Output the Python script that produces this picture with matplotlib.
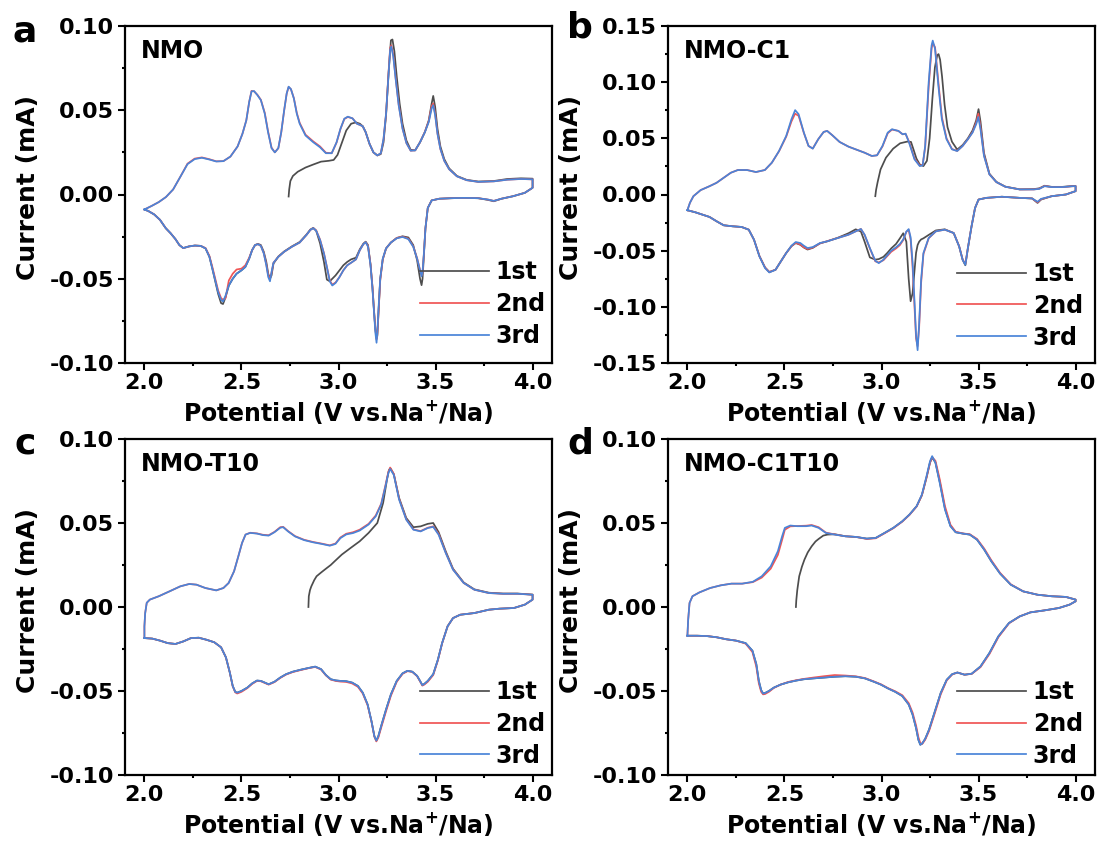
import matplotlib
matplotlib.use('Agg')
import matplotlib.pyplot as plt
from matplotlib.ticker import MultipleLocator, FormatStrFormatter

plt.rcParams['font.family'] = 'DejaVu Sans'
plt.rcParams['font.weight'] = 'bold'
plt.rcParams['mathtext.default'] = 'bf'
plt.rcParams['axes.unicode_minus'] = False

# ---------------- panel a : NMO ----------------
a_up_v = [2.000, 2.037, 2.074, 2.111, 2.148, 2.185, 2.222, 2.259, 2.296, 2.333,
          2.370, 2.407, 2.443, 2.480, 2.505, 2.525, 2.540, 2.552, 2.565, 2.582,
          2.600, 2.620, 2.637, 2.655, 2.672, 2.690, 2.705, 2.720, 2.733, 2.743,
          2.755, 2.770, 2.785, 2.800, 2.830, 2.870, 2.905, 2.935, 2.965, 2.990,
          3.010, 3.030, 3.048, 3.072, 3.095, 3.112, 3.125, 3.140, 3.160, 3.180,
          3.200, 3.218, 3.232, 3.245, 3.256, 3.266, 3.272, 3.282, 3.295, 3.310,
          3.330, 3.350, 3.372, 3.395, 3.420, 3.445, 3.465, 3.480, 3.488, 3.498,
          3.510, 3.525, 3.545, 3.570, 3.610, 3.660, 3.720, 3.800, 3.870, 3.940, 4.000]
a_up_3rd = [-0.0089, -0.0068, -0.0045, -0.0015, 0.0030, 0.0105, 0.0180, 0.0210, 0.0218, 0.0208,
            0.0196, 0.0198, 0.0225, 0.0285, 0.0360, 0.0440, 0.0550, 0.0612, 0.0614, 0.0590,
            0.0560, 0.0480, 0.0370, 0.0275, 0.0250, 0.0275, 0.0370, 0.0500, 0.0600, 0.0640,
            0.0625, 0.0570, 0.0480, 0.0420, 0.0350, 0.0310, 0.0280, 0.0245, 0.0245, 0.0310,
            0.0390, 0.0450, 0.0462, 0.0452, 0.0420, 0.0412, 0.0405, 0.0370, 0.0300, 0.0250,
            0.0232, 0.0245, 0.0330, 0.0480, 0.0680, 0.0860, 0.0878, 0.0820, 0.0680, 0.0530,
            0.0390, 0.0305, 0.0260, 0.0262, 0.0310, 0.0370, 0.0430, 0.0510, 0.0530, 0.0470,
            0.0360, 0.0270, 0.0200, 0.0150, 0.0108, 0.0085, 0.0075, 0.0078, 0.0088, 0.0092, 0.0090]
a_up_2nd = [-0.0089, -0.0068, -0.0045, -0.0015, 0.0030, 0.0105, 0.0183, 0.0213, 0.0220, 0.0210,
            0.0197, 0.0198, 0.0225, 0.0285, 0.0360, 0.0440, 0.0550, 0.0615, 0.0612, 0.0592,
            0.0562, 0.0485, 0.0375, 0.0278, 0.0250, 0.0275, 0.0368, 0.0498, 0.0598, 0.0638,
            0.0625, 0.0572, 0.0485, 0.0425, 0.0355, 0.0315, 0.0285, 0.0248, 0.0245, 0.0308,
            0.0388, 0.0448, 0.0460, 0.0452, 0.0420, 0.0412, 0.0405, 0.0370, 0.0300, 0.0250,
            0.0232, 0.0245, 0.0328, 0.0478, 0.0690, 0.0870, 0.0885, 0.0830, 0.0685, 0.0535,
            0.0392, 0.0305, 0.0260, 0.0262, 0.0310, 0.0372, 0.0435, 0.0525, 0.0540, 0.0478,
            0.0362, 0.0270, 0.0200, 0.0150, 0.0108, 0.0085, 0.0075, 0.0078, 0.0088, 0.0092, 0.0090]
a_dn_v = [4.000, 3.960, 3.900, 3.840, 3.800, 3.770, 3.720, 3.650, 3.580, 3.520,
          3.480, 3.460, 3.448, 3.440, 3.433, 3.428, 3.420, 3.405, 3.385, 3.360,
          3.330, 3.300, 3.270, 3.245, 3.228, 3.215, 3.206, 3.200, 3.196, 3.190,
          3.183, 3.175, 3.165, 3.152, 3.140, 3.128, 3.110, 3.090, 3.065, 3.045,
          3.025, 3.005, 2.985, 2.968, 2.955, 2.940, 2.925, 2.905, 2.885, 2.870,
          2.855, 2.835, 2.800, 2.760, 2.720, 2.690, 2.665, 2.655, 2.647, 2.638,
          2.628, 2.615, 2.600, 2.585, 2.570, 2.555, 2.540, 2.520, 2.500, 2.475,
          2.455, 2.435, 2.418, 2.405, 2.395, 2.380, 2.365, 2.350, 2.335, 2.315,
          2.290, 2.260, 2.230, 2.200, 2.180, 2.160, 2.135, 2.110, 2.080, 2.050,
          2.020, 2.000]
a_dn_3rd = [0.0040, 0.0010, -0.0010, -0.0025, -0.0038, -0.0030, -0.0022, -0.0020, -0.0022, -0.0025,
            -0.0035, -0.0080, -0.0200, -0.0350, -0.0460, -0.0485, -0.0450, -0.0380, -0.0310, -0.0265,
            -0.0252, -0.0260, -0.0285, -0.0320, -0.0380, -0.0500, -0.0680, -0.0820, -0.0880, -0.0820,
            -0.0700, -0.0560, -0.0420, -0.0310, -0.0283, -0.0295, -0.0330, -0.0385, -0.0405, -0.0420,
            -0.0450, -0.0490, -0.0525, -0.0540, -0.0515, -0.0430, -0.0350, -0.0270, -0.0215, -0.0200,
            -0.0210, -0.0240, -0.0285, -0.0310, -0.0340, -0.0370, -0.0405, -0.0460, -0.0515, -0.0490,
            -0.0420, -0.0350, -0.0305, -0.0295, -0.0300, -0.0330, -0.0380, -0.0430, -0.0450, -0.0470,
            -0.0500, -0.0540, -0.0600, -0.0635, -0.0625, -0.0580, -0.0510, -0.0440, -0.0370, -0.0320,
            -0.0305, -0.0303, -0.0308, -0.0318, -0.0300, -0.0265, -0.0230, -0.0200, -0.0150, -0.0118,
            -0.0098, -0.0089]
a_dn_2nd = [0.0040, 0.0010, -0.0010, -0.0025, -0.0038, -0.0030, -0.0022, -0.0020, -0.0022, -0.0025,
            -0.0035, -0.0080, -0.0200, -0.0350, -0.0465, -0.0480, -0.0448, -0.0378, -0.0308, -0.0262,
            -0.0250, -0.0258, -0.0285, -0.0320, -0.0385, -0.0510, -0.0700, -0.0830, -0.0860, -0.0800,
            -0.0690, -0.0550, -0.0415, -0.0305, -0.0283, -0.0295, -0.0330, -0.0385, -0.0405, -0.0420,
            -0.0450, -0.0490, -0.0522, -0.0535, -0.0510, -0.0428, -0.0348, -0.0268, -0.0213, -0.0200,
            -0.0210, -0.0240, -0.0285, -0.0310, -0.0340, -0.0370, -0.0405, -0.0465, -0.0500, -0.0480,
            -0.0415, -0.0348, -0.0305, -0.0295, -0.0300, -0.0330, -0.0375, -0.0420, -0.0440, -0.0445,
            -0.0470, -0.0510, -0.0615, -0.0625, -0.0615, -0.0570, -0.0500, -0.0430, -0.0365, -0.0318,
            -0.0305, -0.0303, -0.0308, -0.0318, -0.0300, -0.0265, -0.0230, -0.0200, -0.0150, -0.0118,
            -0.0098, -0.0089]
a_dn_1st = [0.0040, 0.0010, -0.0010, -0.0025, -0.0040, -0.0032, -0.0022, -0.0020, -0.0022, -0.0025,
            -0.0035, -0.0080, -0.0200, -0.0360, -0.0500, -0.0538, -0.0500, -0.0390, -0.0300, -0.0255,
            -0.0248, -0.0258, -0.0285, -0.0320, -0.0385, -0.0500, -0.0700, -0.0840, -0.0850, -0.0800,
            -0.0690, -0.0550, -0.0415, -0.0300, -0.0280, -0.0292, -0.0325, -0.0375, -0.0385, -0.0400,
            -0.0420, -0.0450, -0.0480, -0.0500, -0.0515, -0.0505, -0.0400, -0.0290, -0.0215, -0.0198,
            -0.0208, -0.0238, -0.0282, -0.0308, -0.0338, -0.0368, -0.0410, -0.0480, -0.0500, -0.0470,
            -0.0400, -0.0340, -0.0300, -0.0293, -0.0300, -0.0330, -0.0380, -0.0430, -0.0450, -0.0470,
            -0.0500, -0.0540, -0.0610, -0.0650, -0.0645, -0.0590, -0.0515, -0.0440, -0.0370, -0.0320,
            -0.0305, -0.0303, -0.0308, -0.0318, -0.0300, -0.0265, -0.0230, -0.0200, -0.0150, -0.0118,
            -0.0098, -0.0089]
a_start_v = [2.743, 2.746, 2.752, 2.765, 2.790, 2.830, 2.870, 2.910, 2.950, 2.975,
             2.995, 3.015, 3.040, 3.065, 3.090, 3.110, 3.125, 3.140, 3.160, 3.180,
             3.200, 3.218, 3.232, 3.245, 3.258, 3.270, 3.278, 3.288, 3.300, 3.315,
             3.330, 3.350, 3.372, 3.395, 3.420, 3.445, 3.465, 3.480, 3.488, 3.498,
             3.510, 3.525, 3.545, 3.570, 3.610, 3.660, 3.720, 3.800, 3.870, 3.940, 4.000]
a_start_i = [-0.0012, 0.0030, 0.0080, 0.0110, 0.0135, 0.0160, 0.0178, 0.0195, 0.0200, 0.0205,
             0.0235, 0.0300, 0.0380, 0.0420, 0.0428, 0.0420, 0.0405, 0.0370, 0.0300, 0.0250,
             0.0232, 0.0240, 0.0310, 0.0470, 0.0720, 0.0915, 0.0920, 0.0850, 0.0700, 0.0540,
             0.0420, 0.0320, 0.0265, 0.0262, 0.0310, 0.0370, 0.0440, 0.0540, 0.0585, 0.0520,
             0.0390, 0.0285, 0.0210, 0.0155, 0.0110, 0.0087, 0.0077, 0.0080, 0.0092, 0.0096, 0.0094]

# ---------------- panel b : NMO-C1 ----------------
b_up_v = [2.000, 2.013, 2.031, 2.068, 2.114, 2.150, 2.187, 2.224, 2.260, 2.307,
          2.353, 2.399, 2.435, 2.472, 2.509, 2.536, 2.555, 2.573, 2.600, 2.624,
          2.646, 2.674, 2.702, 2.720, 2.747, 2.784, 2.830, 2.876, 2.913, 2.950,
          2.977, 3.005, 3.032, 3.054, 3.087, 3.109, 3.124, 3.142, 3.170, 3.197,
          3.212, 3.225, 3.243, 3.258, 3.264, 3.276, 3.293, 3.311, 3.335, 3.363,
          3.390, 3.418, 3.445, 3.469, 3.488, 3.499, 3.510, 3.528, 3.556, 3.592,
          3.638, 3.712, 3.785, 3.813, 3.840, 3.877, 3.932, 3.987, 4.000]
b_up_3rd = [-0.0140, -0.0074, -0.0015, 0.0039, 0.0074, 0.0104, 0.0149, 0.0194, 0.0218, 0.0218,
            0.0200, 0.0218, 0.0283, 0.0387, 0.0521, 0.0670, 0.0751, 0.0715, 0.0551, 0.0432,
            0.0408, 0.0492, 0.0557, 0.0566, 0.0527, 0.0468, 0.0426, 0.0396, 0.0372, 0.0343,
            0.0349, 0.0432, 0.0551, 0.0581, 0.0566, 0.0536, 0.0542, 0.0462, 0.0313, 0.0253,
            0.0259, 0.0432, 0.0998, 0.1326, 0.1370, 0.1296, 0.0968, 0.0670, 0.0492, 0.0402,
            0.0387, 0.0432, 0.0492, 0.0551, 0.0626, 0.0690, 0.0581, 0.0343, 0.0179, 0.0110,
            0.0069, 0.0045, 0.0045, 0.0050, 0.0074, 0.0066, 0.0066, 0.0074, 0.0074]
b_up_2nd = [-0.0140, -0.0074, -0.0015, 0.0039, 0.0074, 0.0104, 0.0149, 0.0194, 0.0218, 0.0218,
            0.0200, 0.0218, 0.0283, 0.0385, 0.0515, 0.0650, 0.0720, 0.0700, 0.0548, 0.0432,
            0.0410, 0.0492, 0.0557, 0.0566, 0.0527, 0.0468, 0.0426, 0.0396, 0.0372, 0.0343,
            0.0349, 0.0428, 0.0545, 0.0578, 0.0566, 0.0536, 0.0540, 0.0470, 0.0320, 0.0258,
            0.0262, 0.0420, 0.0960, 0.1300, 0.1350, 0.1310, 0.1000, 0.0690, 0.0500, 0.0405,
            0.0388, 0.0432, 0.0492, 0.0555, 0.0640, 0.0720, 0.0600, 0.0350, 0.0180, 0.0110,
            0.0069, 0.0045, 0.0045, 0.0052, 0.0076, 0.0066, 0.0066, 0.0074, 0.0074]
b_dn_v = [4.000, 3.950, 3.877, 3.822, 3.804, 3.790, 3.776, 3.712, 3.620, 3.540,
          3.500, 3.482, 3.464, 3.445, 3.432, 3.418, 3.400, 3.372, 3.326, 3.280,
          3.243, 3.216, 3.204, 3.194, 3.186, 3.178, 3.170, 3.160, 3.150, 3.140,
          3.128, 3.112, 3.095, 3.075, 3.050, 3.030, 3.010, 2.986, 2.968, 2.940,
          2.913, 2.894, 2.867, 2.830, 2.775, 2.720, 2.683, 2.646, 2.619, 2.600,
          2.582, 2.558, 2.536, 2.509, 2.481, 2.454, 2.422, 2.400, 2.371, 2.343,
          2.316, 2.279, 2.233, 2.187, 2.150, 2.114, 2.077, 2.040, 2.000]
b_dn_3rd = [0.0030, 0.0000, -0.0015, -0.0039, -0.0065, -0.0050, -0.0035, -0.0030, -0.0020, -0.0030,
            -0.0045, -0.0120, -0.0283, -0.0477, -0.0626, -0.0581, -0.0462, -0.0343, -0.0313, -0.0328,
            -0.0387, -0.0521, -0.0760, -0.1150, -0.1386, -0.1250, -0.0950, -0.0600, -0.0380, -0.0308,
            -0.0330, -0.0400, -0.0440, -0.0470, -0.0500, -0.0540, -0.0580, -0.0611, -0.0590, -0.0477,
            -0.0358, -0.0307, -0.0328, -0.0358, -0.0387, -0.0417, -0.0432, -0.0468, -0.0477, -0.0456,
            -0.0432, -0.0423, -0.0456, -0.0521, -0.0596, -0.0670, -0.0694, -0.0655, -0.0551, -0.0402,
            -0.0313, -0.0289, -0.0283, -0.0274, -0.0238, -0.0200, -0.0179, -0.0158, -0.0140]
b_dn_2nd = [0.0030, 0.0000, -0.0015, -0.0042, -0.0070, -0.0052, -0.0035, -0.0030, -0.0020, -0.0030,
            -0.0045, -0.0120, -0.0283, -0.0477, -0.0620, -0.0578, -0.0460, -0.0343, -0.0313, -0.0328,
            -0.0390, -0.0530, -0.0790, -0.1180, -0.1350, -0.1280, -0.1000, -0.0640, -0.0400, -0.0315,
            -0.0332, -0.0405, -0.0450, -0.0480, -0.0510, -0.0548, -0.0585, -0.0605, -0.0595, -0.0480,
            -0.0360, -0.0307, -0.0328, -0.0358, -0.0387, -0.0417, -0.0435, -0.0472, -0.0485, -0.0470,
            -0.0445, -0.0430, -0.0460, -0.0521, -0.0596, -0.0670, -0.0690, -0.0650, -0.0548, -0.0402,
            -0.0313, -0.0289, -0.0283, -0.0274, -0.0238, -0.0200, -0.0179, -0.0158, -0.0140]
b_dn_1st = [0.0030, 0.0000, -0.0015, -0.0045, -0.0075, -0.0055, -0.0035, -0.0030, -0.0020, -0.0030,
            -0.0045, -0.0120, -0.0283, -0.0480, -0.0630, -0.0581, -0.0462, -0.0343, -0.0310, -0.0320,
            -0.0360, -0.0390, -0.0400, -0.0420, -0.0450, -0.0520, -0.0680, -0.0880, -0.0950, -0.0750,
            -0.0420, -0.0345, -0.0390, -0.0440, -0.0480, -0.0520, -0.0555, -0.0575, -0.0580, -0.0560,
            -0.0420, -0.0330, -0.0310, -0.0345, -0.0385, -0.0417, -0.0435, -0.0475, -0.0490, -0.0472,
            -0.0448, -0.0432, -0.0460, -0.0521, -0.0596, -0.0670, -0.0690, -0.0650, -0.0548, -0.0402,
            -0.0313, -0.0289, -0.0283, -0.0274, -0.0238, -0.0200, -0.0179, -0.0158, -0.0140]
b_start_v = [2.968, 2.972, 2.980, 2.995, 3.023, 3.060, 3.096, 3.133, 3.152, 3.165,
             3.180, 3.197, 3.216, 3.234, 3.248, 3.262, 3.275, 3.287, 3.294, 3.302,
             3.312, 3.325, 3.340, 3.363, 3.390, 3.418, 3.445, 3.469, 3.488, 3.500,
             3.510, 3.528, 3.556, 3.592, 3.638, 3.712, 3.785, 3.813, 3.840, 3.877,
             3.932, 3.987, 4.000]
b_start_i = [-0.0015, 0.0040, 0.0110, 0.0223, 0.0328, 0.0408, 0.0456, 0.0471, 0.0468, 0.0400,
             0.0320, 0.0268, 0.0253, 0.0300, 0.0500, 0.0850, 0.1130, 0.1240, 0.1250, 0.1200,
             0.1050, 0.0800, 0.0600, 0.0470, 0.0400, 0.0440, 0.0500, 0.0570, 0.0660, 0.0760,
             0.0650, 0.0370, 0.0185, 0.0112, 0.0070, 0.0046, 0.0048, 0.0055, 0.0078, 0.0068,
             0.0068, 0.0076, 0.0076]

# ---------------- panel c : NMO-T10 ----------------
c_up_v = [2.000, 2.000, 2.004, 2.012, 2.028, 2.074, 2.129, 2.185, 2.231, 2.268,
          2.314, 2.370, 2.407, 2.434, 2.462, 2.484, 2.503, 2.521, 2.545, 2.580,
          2.610, 2.640, 2.670, 2.700, 2.715, 2.740, 2.776, 2.823, 2.869, 2.915,
          2.955, 2.985, 3.010, 3.040, 3.075, 3.109, 3.155, 3.192, 3.220, 3.242,
          3.257, 3.266, 3.285, 3.312, 3.349, 3.386, 3.423, 3.460, 3.488, 3.516,
          3.553, 3.590, 3.645, 3.700, 3.775, 3.848, 3.922, 4.000]
c_up_3rd = [-0.0185, -0.0115, -0.0036, 0.0025, 0.0044, 0.0064, 0.0093, 0.0123, 0.0137, 0.0133,
            0.0113, 0.0099, 0.0113, 0.0143, 0.0213, 0.0302, 0.0381, 0.0431, 0.0441, 0.0437,
            0.0428, 0.0425, 0.0445, 0.0472, 0.0475, 0.0450, 0.0420, 0.0398, 0.0385, 0.0375,
            0.0365, 0.0375, 0.0410, 0.0432, 0.0440, 0.0455, 0.0491, 0.0540, 0.0610, 0.0719,
            0.0798, 0.0822, 0.0786, 0.0640, 0.0520, 0.0460, 0.0450, 0.0470, 0.0477, 0.0430,
            0.0320, 0.0222, 0.0143, 0.0103, 0.0083, 0.0079, 0.0079, 0.0073]
c_up_2nd = [-0.0185, -0.0115, -0.0036, 0.0025, 0.0044, 0.0064, 0.0093, 0.0123, 0.0137, 0.0133,
            0.0113, 0.0099, 0.0113, 0.0143, 0.0213, 0.0302, 0.0381, 0.0431, 0.0442, 0.0438,
            0.0430, 0.0427, 0.0447, 0.0475, 0.0477, 0.0452, 0.0422, 0.0400, 0.0387, 0.0377,
            0.0367, 0.0378, 0.0414, 0.0436, 0.0445, 0.0460, 0.0495, 0.0545, 0.0615, 0.0725,
            0.0805, 0.0830, 0.0792, 0.0645, 0.0522, 0.0462, 0.0452, 0.0472, 0.0480, 0.0435,
            0.0322, 0.0224, 0.0143, 0.0103, 0.0083, 0.0079, 0.0079, 0.0073]
c_dn_v = [4.000, 4.000, 3.960, 3.904, 3.830, 3.775, 3.700, 3.627, 3.590, 3.562,
          3.534, 3.512, 3.488, 3.460, 3.442, 3.432, 3.420, 3.405, 3.380, 3.355,
          3.330, 3.300, 3.270, 3.245, 3.222, 3.205, 3.195, 3.185, 3.170, 3.150,
          3.125, 3.100, 3.070, 3.040, 3.010, 2.985, 2.960, 2.935, 2.910, 2.880,
          2.850, 2.810, 2.765, 2.730, 2.700, 2.670, 2.640, 2.620, 2.600, 2.580,
          2.555, 2.530, 2.500, 2.478, 2.468, 2.455, 2.440, 2.420, 2.395, 2.360,
          2.320, 2.280, 2.240, 2.200, 2.160, 2.120, 2.080, 2.040, 2.000]
c_dn_3rd = [0.0073, 0.0044, 0.0014, -0.0006, -0.0010, -0.0016, -0.0036, -0.0046, -0.0066, -0.0115,
            -0.0214, -0.0314, -0.0400, -0.0440, -0.0458, -0.0465, -0.0440, -0.0410, -0.0385, -0.0380,
            -0.0395, -0.0440, -0.0520, -0.0610, -0.0700, -0.0770, -0.0795, -0.0770, -0.0680, -0.0580,
            -0.0510, -0.0470, -0.0450, -0.0442, -0.0440, -0.0437, -0.0430, -0.0405, -0.0370, -0.0355,
            -0.0362, -0.0372, -0.0385, -0.0400, -0.0420, -0.0445, -0.0460, -0.0450, -0.0440, -0.0438,
            -0.0455, -0.0480, -0.0500, -0.0510, -0.0505, -0.0470, -0.0390, -0.0300, -0.0240, -0.0210,
            -0.0195, -0.0183, -0.0185, -0.0205, -0.0220, -0.0215, -0.0200, -0.0188, -0.0185]
c_dn_2nd = [0.0073, 0.0044, 0.0014, -0.0006, -0.0010, -0.0016, -0.0036, -0.0046, -0.0066, -0.0115,
            -0.0216, -0.0318, -0.0405, -0.0445, -0.0462, -0.0468, -0.0442, -0.0412, -0.0386, -0.0382,
            -0.0398, -0.0445, -0.0528, -0.0620, -0.0710, -0.0778, -0.0800, -0.0772, -0.0682, -0.0585,
            -0.0515, -0.0475, -0.0455, -0.0446, -0.0444, -0.0440, -0.0432, -0.0407, -0.0372, -0.0357,
            -0.0363, -0.0374, -0.0387, -0.0402, -0.0422, -0.0447, -0.0462, -0.0452, -0.0442, -0.0440,
            -0.0458, -0.0483, -0.0505, -0.0515, -0.0508, -0.0472, -0.0390, -0.0300, -0.0240, -0.0210,
            -0.0195, -0.0183, -0.0185, -0.0205, -0.0220, -0.0215, -0.0200, -0.0188, -0.0185]
c_start_v = [2.845, 2.847, 2.853, 2.860, 2.875, 2.887, 2.910, 2.933, 2.960, 2.980,
             3.017, 3.063, 3.109, 3.155, 3.200, 3.230, 3.250, 3.260, 3.268, 3.285,
             3.312, 3.349, 3.386, 3.423, 3.460, 3.488, 3.516, 3.553, 3.590, 3.645,
             3.700, 3.775, 3.848, 3.922, 4.000]
c_start_i = [0.0000, 0.0064, 0.0100, 0.0123, 0.0160, 0.0183, 0.0205, 0.0226, 0.0250, 0.0272,
             0.0312, 0.0352, 0.0391, 0.0441, 0.0500, 0.0620, 0.0760, 0.0815, 0.0825, 0.0790,
             0.0650, 0.0530, 0.0475, 0.0480, 0.0495, 0.0500, 0.0445, 0.0330, 0.0228, 0.0146,
             0.0105, 0.0085, 0.0080, 0.0080, 0.0074]

# ---------------- panel d : NMO-C1T10 ----------------
d_up_v = [2.000, 2.004, 2.011, 2.026, 2.062, 2.117, 2.172, 2.227, 2.282, 2.337,
          2.383, 2.429, 2.466, 2.488, 2.502, 2.530, 2.566, 2.612, 2.640, 2.676,
          2.713, 2.759, 2.814, 2.869, 2.924, 2.970, 3.016, 3.061, 3.107, 3.144,
          3.181, 3.208, 3.232, 3.250, 3.261, 3.278, 3.300, 3.327, 3.355, 3.382,
          3.419, 3.455, 3.492, 3.529, 3.566, 3.611, 3.666, 3.730, 3.804, 3.877,
          3.950, 4.000]
d_up_3rd = [-0.0171, -0.0075, 0.0024, 0.0064, 0.0087, 0.0113, 0.0129, 0.0139, 0.0139, 0.0150,
            0.0183, 0.0242, 0.0332, 0.0421, 0.0471, 0.0485, 0.0481, 0.0481, 0.0485, 0.0471,
            0.0441, 0.0431, 0.0421, 0.0417, 0.0407, 0.0411, 0.0441, 0.0471, 0.0510, 0.0550,
            0.0600, 0.0669, 0.0779, 0.0868, 0.0898, 0.0858, 0.0739, 0.0580, 0.0481, 0.0445,
            0.0437, 0.0431, 0.0401, 0.0342, 0.0272, 0.0199, 0.0133, 0.0093, 0.0073, 0.0064,
            0.0060, 0.0044]
d_up_2nd = [-0.0171, -0.0075, 0.0024, 0.0064, 0.0087, 0.0113, 0.0129, 0.0139, 0.0139, 0.0148,
            0.0175, 0.0228, 0.0310, 0.0400, 0.0460, 0.0480, 0.0482, 0.0484, 0.0488, 0.0475,
            0.0443, 0.0432, 0.0421, 0.0417, 0.0405, 0.0409, 0.0439, 0.0469, 0.0508, 0.0548,
            0.0598, 0.0665, 0.0772, 0.0860, 0.0892, 0.0870, 0.0760, 0.0600, 0.0490, 0.0448,
            0.0438, 0.0433, 0.0405, 0.0348, 0.0278, 0.0203, 0.0135, 0.0093, 0.0073, 0.0064,
            0.0060, 0.0044]
d_dn_v = [4.000, 4.000, 3.969, 3.914, 3.840, 3.767, 3.712, 3.657, 3.602, 3.556,
          3.510, 3.465, 3.428, 3.391, 3.364, 3.336, 3.305, 3.272, 3.245, 3.225,
          3.210, 3.200, 3.190, 3.178, 3.160, 3.140, 3.107, 3.071, 3.034, 2.997,
          2.961, 2.915, 2.869, 2.814, 2.759, 2.704, 2.649, 2.600, 2.560, 2.520,
          2.480, 2.445, 2.420, 2.400, 2.390, 2.380, 2.368, 2.355, 2.335, 2.300,
          2.250, 2.200, 2.150, 2.100, 2.050, 2.000]
d_dn_3rd = [0.0044, 0.0034, 0.0014, -0.0006, -0.0020, -0.0032, -0.0056, -0.0095, -0.0175, -0.0274,
            -0.0354, -0.0397, -0.0403, -0.0390, -0.0400, -0.0433, -0.0512, -0.0632, -0.0730, -0.0785,
            -0.0812, -0.0820, -0.0790, -0.0720, -0.0640, -0.0580, -0.0530, -0.0505, -0.0485, -0.0462,
            -0.0445, -0.0425, -0.0415, -0.0412, -0.0415, -0.0420, -0.0425, -0.0430, -0.0438, -0.0448,
            -0.0462, -0.0480, -0.0500, -0.0512, -0.0515, -0.0495, -0.0440, -0.0340, -0.0260, -0.0215,
            -0.0200, -0.0192, -0.0180, -0.0173, -0.0171, -0.0171]
d_dn_2nd = [0.0044, 0.0034, 0.0014, -0.0006, -0.0020, -0.0032, -0.0056, -0.0097, -0.0180, -0.0280,
            -0.0358, -0.0398, -0.0403, -0.0390, -0.0402, -0.0437, -0.0520, -0.0642, -0.0738, -0.0790,
            -0.0815, -0.0810, -0.0775, -0.0705, -0.0628, -0.0572, -0.0525, -0.0502, -0.0483, -0.0460,
            -0.0443, -0.0423, -0.0413, -0.0408, -0.0405, -0.0412, -0.0420, -0.0428, -0.0436, -0.0446,
            -0.0462, -0.0482, -0.0505, -0.0518, -0.0520, -0.0505, -0.0455, -0.0355, -0.0268, -0.0218,
            -0.0200, -0.0192, -0.0180, -0.0173, -0.0171, -0.0171]
d_start_v = [2.559, 2.561, 2.566, 2.576, 2.590, 2.603, 2.620, 2.640, 2.660, 2.676,
             2.700, 2.722, 2.759, 2.814, 2.869, 2.924, 2.970, 3.016, 3.061, 3.107,
             3.144, 3.181, 3.208, 3.232, 3.250, 3.261, 3.278, 3.300, 3.327, 3.355,
             3.382, 3.419, 3.455, 3.492, 3.529, 3.566, 3.611, 3.666, 3.730, 3.804,
             3.877, 3.950, 4.000]
d_start_i = [0.0000, 0.0040, 0.0100, 0.0183, 0.0240, 0.0282, 0.0325, 0.0361, 0.0390, 0.0405,
             0.0425, 0.0431, 0.0433, 0.0421, 0.0417, 0.0407, 0.0411, 0.0441, 0.0471, 0.0510,
             0.0550, 0.0600, 0.0665, 0.0770, 0.0860, 0.0890, 0.0860, 0.0745, 0.0585, 0.0483,
             0.0445, 0.0437, 0.0431, 0.0401, 0.0342, 0.0272, 0.0199, 0.0133, 0.0093, 0.0073,
             0.0064, 0.0060, 0.0044]

cycle_labels = ['1st', '2nd', '3rd']
cycle_colors = ['#4d4d4d', '#f05555', '#4a84d8']

W, H = 1101, 849
fig = plt.figure(figsize=(W / 100, H / 100), dpi=100)


def make_axes(left, top, right, bottom):
    return fig.add_axes([left / W, 1 - bottom / H, (right - left) / W, (bottom - top) / H])


def draw_panel(ax, title, ylim, up_v, up_3, up_2, dn_v, dn_3, dn_2, dn_1, st_v, st_i,
               leg_x, leg_y):
    # 1st cycle: from open circuit up to 4.0 V, then back down to 2.0 V
    ax.plot(st_v + dn_v, st_i + dn_1, color=cycle_colors[0], lw=1.25, label=cycle_labels[0])
    ax.plot(up_v + dn_v, up_2 + dn_2, color=cycle_colors[1], lw=1.25, label=cycle_labels[1])
    ax.plot(up_v + dn_v, up_3 + dn_3, color=cycle_colors[2], lw=1.25, label=cycle_labels[2])

    ax.set_xlim(1.9, 4.1)
    ax.set_ylim(*ylim)
    ax.xaxis.set_major_locator(MultipleLocator(0.5))
    ax.xaxis.set_minor_locator(MultipleLocator(0.25))
    ax.yaxis.set_major_locator(MultipleLocator(0.05))
    ax.yaxis.set_minor_locator(MultipleLocator(0.025))
    ax.xaxis.set_major_formatter(FormatStrFormatter('%.1f'))
    ax.yaxis.set_major_formatter(FormatStrFormatter('%.2f'))
    ax.tick_params(which='major', direction='out', length=5, width=1.5, labelsize=16)
    ax.tick_params(which='minor', direction='out', length=2.5, width=1.5)
    ax.tick_params(axis='x', pad=2)
    ax.tick_params(axis='y', pad=3)
    for s in ax.spines.values():
        s.set_linewidth(1.6)

    ax.set_xlabel('Potential (V vs.Na$^{+}$/Na)', fontsize=17, fontweight='bold')
    ax.set_ylabel('Current (mA)', fontsize=18, fontweight='bold')
    ax.yaxis.set_label_coords(-0.20, 0.52)
    ax.xaxis.set_label_coords(0.5, -0.105)

    ax.text(0.037, 0.905, title, transform=ax.transAxes, fontsize=17,
            fontweight='bold', ha='left', va='baseline')
    ax.legend(loc='lower left', bbox_to_anchor=(leg_x, leg_y), frameon=False,
              fontsize=17, handlelength=2.9, handletextpad=0.3, labelspacing=0.33,
              borderpad=0, borderaxespad=0)


ax_a = make_axes(125, 26, 552, 363)
ax_b = make_axes(668, 26, 1095, 363)
ax_c = make_axes(125, 439, 552, 775)
ax_d = make_axes(668, 439, 1095, 775)

draw_panel(ax_a, 'NMO', (-0.10, 0.10),
           a_up_v, a_up_3rd, a_up_2nd, a_dn_v, a_dn_3rd, a_dn_2nd, a_dn_1st,
           a_start_v, a_start_i, 0.691, 0.045)
draw_panel(ax_b, 'NMO-C1', (-0.15, 0.15),
           b_up_v, b_up_3rd, b_up_2nd, b_dn_v, b_dn_3rd, b_dn_2nd, b_dn_1st,
           b_start_v, b_start_i, 0.677, 0.04)
draw_panel(ax_c, 'NMO-T10', (-0.10, 0.10),
           c_up_v, c_up_3rd, c_up_2nd, c_dn_v, c_dn_3rd, c_dn_2nd, c_dn_3rd,
           c_start_v, c_start_i, 0.691, 0.022)
draw_panel(ax_d, 'NMO-C1T10', (-0.10, 0.10),
           d_up_v, d_up_3rd, d_up_2nd, d_dn_v, d_dn_3rd, d_dn_2nd, d_dn_3rd,
           d_start_v, d_start_i, 0.677, 0.022)

# panel letters
fig.text(12 / W, 1 - 42 / H, 'a', fontsize=26, fontweight='bold', va='baseline')
fig.text(567 / W, 1 - 37 / H, 'b', fontsize=26, fontweight='bold', va='baseline')
fig.text(14 / W, 1 - 453 / H, 'c', fontsize=26, fontweight='bold', va='baseline')
fig.text(567 / W, 1 - 453 / H, 'd', fontsize=26, fontweight='bold', va='baseline')

fig.savefig('out.png', dpi=100)
